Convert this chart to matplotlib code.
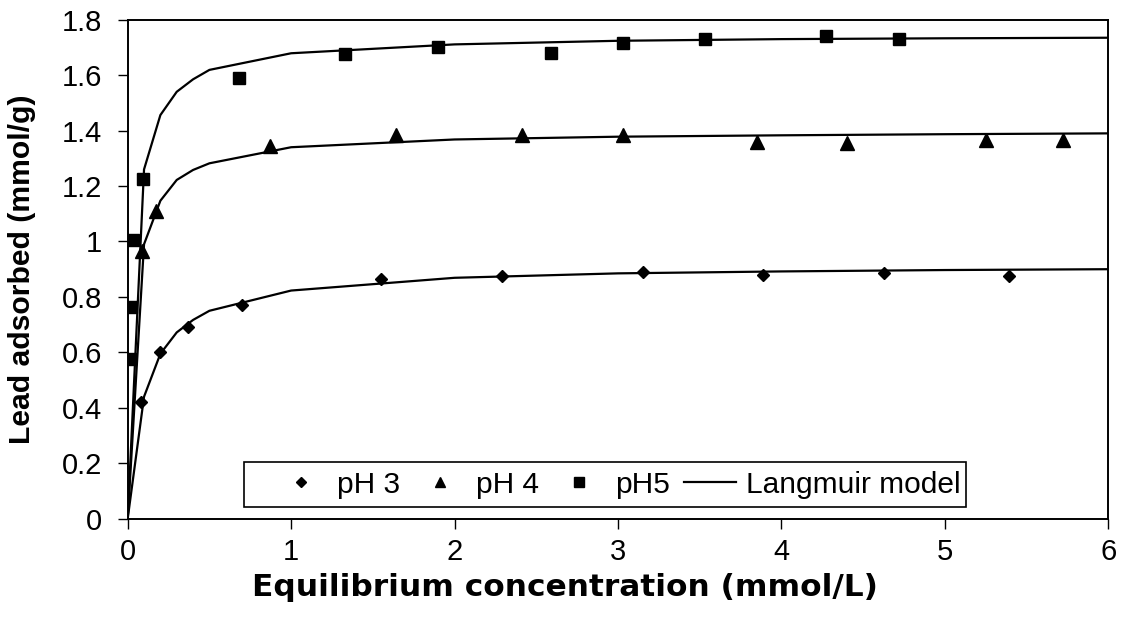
import matplotlib
matplotlib.use("Agg")
import matplotlib.pyplot as plt
from matplotlib.ticker import FixedLocator, FuncFormatter
from matplotlib.patches import Rectangle

plt.rcParams['font.family'] = ['Liberation Sans', 'DejaVu Sans']

# Experimental data
c_ph3 = [0.08, 0.20, 0.37, 0.70, 1.55, 2.29, 3.15, 3.89, 4.63, 5.39]
q_ph3 = [0.42, 0.60, 0.69, 0.77, 0.865, 0.875, 0.89, 0.88, 0.885, 0.875]

c_ph4 = [0.086, 0.175, 0.87, 1.64, 2.41, 3.03, 3.85, 4.40, 5.25, 5.72]
q_ph4 = [0.965, 1.11, 1.345, 1.385, 1.385, 1.385, 1.36, 1.357, 1.367, 1.367]

c_ph5 = [0.012, 0.022, 0.035, 0.095, 0.68, 1.33, 1.90, 2.59, 3.03, 3.53, 4.27, 4.72]
q_ph5 = [0.575, 0.765, 1.005, 1.225, 1.59, 1.675, 1.70, 1.68, 1.715, 1.73, 1.74, 1.73]

# Langmuir model curves
model_c = [0, 0.1, 0.2, 0.3, 0.4, 0.5, 1, 2, 3, 4, 5, 6]
model_ph3 = [0, 0.44, 0.595, 0.672, 0.717, 0.75, 0.823, 0.869, 0.885, 0.892, 0.897, 0.900]
model_ph4 = [0, 0.99, 1.147, 1.222, 1.258, 1.282, 1.34, 1.368, 1.378, 1.383, 1.387, 1.39]
model_ph5 = [0, 1.26, 1.456, 1.54, 1.585, 1.619, 1.679, 1.711, 1.724, 1.73, 1.733, 1.735]

x_ticks = [0, 1, 2, 3, 4, 5, 6]
y_ticks = [0, 0.2, 0.4, 0.6, 0.8, 1.0, 1.2, 1.4, 1.6, 1.8]

FS = 21
LFS = 21.5

fig = plt.figure(figsize=(11.25, 6.2), dpi=100)
ax = fig.add_axes([0.1135, 0.1634, 0.8717, 0.8048])

lw = 1.6
l_model, = ax.plot(model_c, model_ph3, color='black', lw=lw, label='Langmuir model', zorder=2)
ax.plot(model_c, model_ph4, color='black', lw=lw, zorder=2)
ax.plot(model_c, model_ph5, color='black', lw=lw, zorder=2)

h3, = ax.plot(c_ph3, q_ph3, linestyle='none', marker='D', ms=6.6, color='black', label='pH 3', zorder=3)
h4, = ax.plot(c_ph4, q_ph4, linestyle='none', marker='^', ms=9.5, color='black', label='pH 4', zorder=3)
h5, = ax.plot(c_ph5, q_ph5, linestyle='none', marker='s', ms=8.5, color='black', label='pH5', zorder=3)

ax.set_xlim(0, 6)
ax.set_ylim(0, 1.8)
ax.xaxis.set_major_locator(FixedLocator(x_ticks))
ax.yaxis.set_major_locator(FixedLocator(y_ticks))
ax.yaxis.set_major_formatter(FuncFormatter(lambda v, p: '%g' % v))
ax.tick_params(direction='out', length=7, width=1.0, labelsize=FS, colors='black')
ax.tick_params(axis='y', pad=11.5)
ax.tick_params(axis='x', pad=7)
for s in ax.spines.values():
    s.set_linewidth(1.4)
    s.set_color('black')

ax.set_xlabel('Equilibrium concentration (mmol/L)', fontsize=22.5, fontweight='bold',
              family=['DejaVu Sans'])
ax.xaxis.label.set_va('center')
ax.xaxis.set_label_coords(0.5 - (618 - 565) / 980.6, -(588 - 518.7) / 499)
ax.set_ylabel('Lead adsorbed (mmol/g)', fontsize=21.7, fontweight='bold')
ax.yaxis.label.set_va('center')
ax.yaxis.set_label_coords(-(127.7 - 22) / 980.6, 0.5)

# legend frame box (Excel-style) and legend entries
box = Rectangle((0.119, 0.0228), 0.7356, 0.0902, transform=ax.transAxes,
                facecolor='white', edgecolor='black', lw=1.2, zorder=4)
ax.add_patch(box)
leg = ax.legend(handles=[h3, h4, h5, l_model], ncol=4, loc='center left',
                bbox_to_anchor=(0.1502, 0.068), fontsize=LFS, frameon=False,
                handlelength=1.74, handletextpad=0.33, columnspacing=0.48,
                borderpad=0, borderaxespad=0, markerscale=0.8)
leg.set_zorder(5)

fig.savefig('out.png', dpi=100)
